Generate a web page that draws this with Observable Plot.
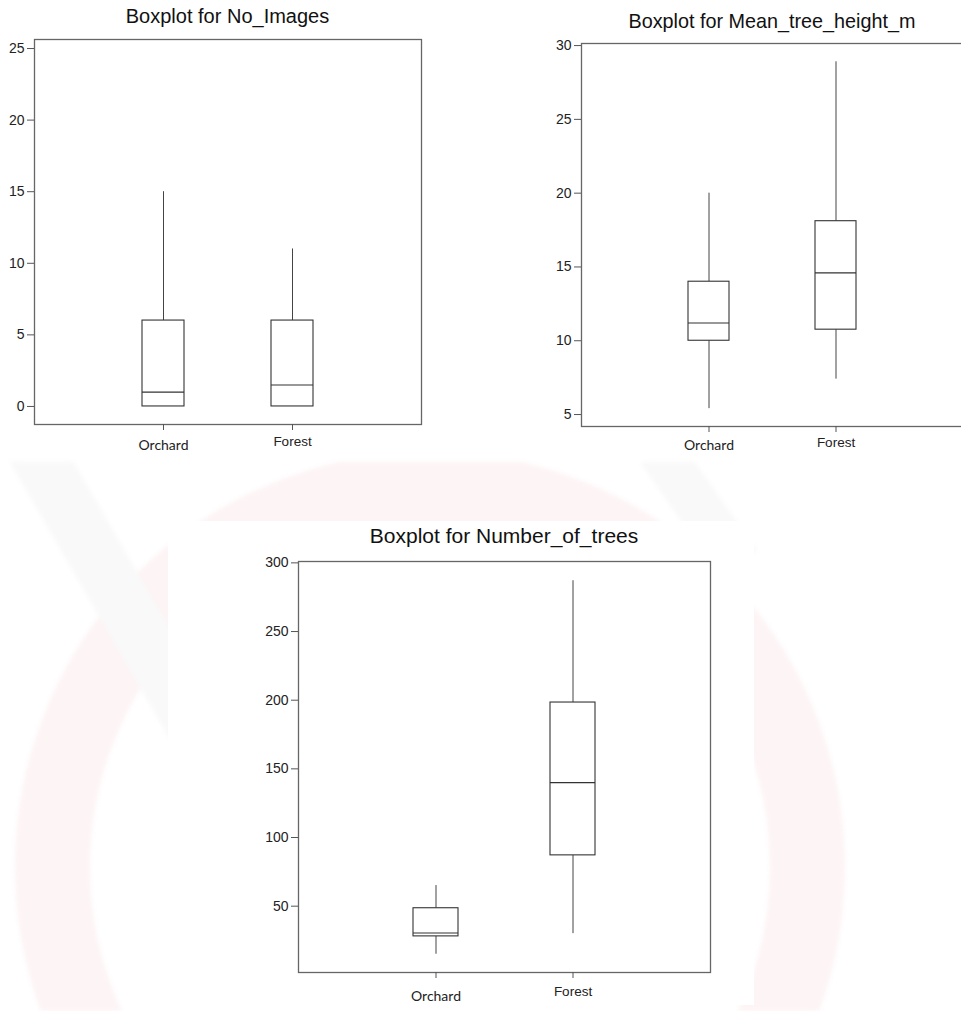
<!DOCTYPE html>
<html>
<head>
<meta charset="utf-8">
<script src="https://cdn.jsdelivr.net/npm/d3@7"></script>
<script src="https://cdn.jsdelivr.net/npm/@observablehq/plot@0.6"></script>
<style>
  html, body { margin: 0; padding: 0; background: #fff; overflow: hidden; }
  #root { position: relative; width: 961px; height: 1011px; overflow: hidden; }
  .panel { position: absolute; }
  .title { position: absolute; transform: translate(-50%, -50%); white-space: nowrap;
           font-family: "Liberation Sans", Arial, sans-serif; color: #111; }
  #wm { position: absolute; left: 0; top: 462px; width: 961px; height: 549px; overflow: hidden; filter: blur(2px); }
  #wm .ring { position: absolute; left: 15px; top: -10px; width: 830px; height: 830px; border-radius: 50%;
              border: 75px solid #fdf4f5; box-sizing: border-box; }
  #wm .band { position: absolute; background: #f9f9f9; transform-origin: 0 0; }
  #paper3 { position: absolute; left: 168px; top: 521px; width: 586px; height: 484px; background: #fff; }
</style>
</head>
<body>
<div id="root">
  <div id="wm"><div class="ring"></div>
    <div class="band" style="left:10px;top:0;width:55px;height:330px;transform:rotate(-30deg);"></div>
    <div class="band" style="left:640px;top:0;width:45px;height:140px;transform:rotate(-35deg);"></div>
  </div>
  <div id="paper3"></div>
</div>
<script>
// ---- data ----
const categories = ["Orchard", "Forest"];

// Boxplot for No_Images
const imagesMin    = [0, 0];
const imagesQ1     = [0, 0];
const imagesMedian = [1, 1.5];
const imagesQ3     = [6, 6];
const imagesMax    = [15, 11];
const imagesTicks  = [0, 5, 10, 15, 20, 25];

// Boxplot for Mean_tree_height_m
const heightMin    = [5.4, 7.4];
const heightQ1     = [10, 10.75];
const heightMedian = [11.2, 14.6];
const heightQ3     = [14, 18.1];
const heightMax    = [20, 28.9];
const heightTicks  = [5, 10, 15, 20, 25, 30];

// Boxplot for Number_of_trees
const treesMin    = [15, 30];
const treesQ1     = [28, 87];
const treesMedian = [30.5, 140];
const treesQ3     = [48.5, 198.3];
const treesMax    = [65, 287];
const treesTicks  = [50, 100, 150, 200, 250, 300];

const titles = ["Boxplot for No_Images", "Boxplot for Mean_tree_height_m", "Boxplot for Number_of_trees"];

// ---- drawing ----
const root = document.getElementById("root");

function rows(min, q1, med, q3, max) {
  return categories.map((c, i) => ({cat: c, min: min[i], q1: q1[i], med: med[i], q3: q3[i], max: max[i]}));
}

function panel(cfg) {
  const data = rows(cfg.min, cfg.q1, cfg.med, cfg.q3, cfg.max);
  const chart = Plot.plot({
    width: cfg.width,
    height: cfg.height,
    marginLeft: cfg.ml, marginRight: cfg.mr, marginTop: cfg.mt, marginBottom: cfg.mb,
    style: {background: "transparent", overflow: "visible", fontSize: "14px", fontFamily: "Liberation Sans, Arial, sans-serif"},
    x: {type: "band", domain: categories, paddingInner: 0.675, paddingOuter: 0.8375, align: 0.5},
    y: {domain: cfg.domain},
    marks: [
      Plot.frame({fill: cfg.fill, stroke: "#666", strokeWidth: 1.3}),
      Plot.ruleX(data, {x: "cat", y1: "min", y2: "q1", stroke: "#444", strokeWidth: 1}),
      Plot.ruleX(data, {x: "cat", y1: "q3", y2: "max", stroke: "#444", strokeWidth: 1}),
      Plot.barY(data, {x: "cat", y1: "q1", y2: "q3", fill: "white", stroke: "#333", strokeWidth: 1.1}),
      Plot.tickY(data, {x: "cat", y: "med", stroke: "#333", strokeWidth: 1.1}),
      Plot.axisY(cfg.ticks, {tickSize: 7, tickPadding: 3, fontSize: 14, fill: "#222", stroke: "#555", label: null}),
      Plot.axisX(categories, {tickSize: 6, tickFormat: () => "", stroke: "#555", label: null}),
      Plot.axisX(["Orchard"], {tickSize: 0, tickPadding: cfg.padO, fontSize: 14, fontFamily: "Lato", fill: "#222", label: null}),
      Plot.axisX(["Forest"], {tickSize: 0, tickPadding: cfg.padF, fontSize: 13.5, fill: "#222", label: null})
    ]
  });
  chart.classList.add("panel");
  chart.style.left = cfg.left + "px";
  chart.style.top = cfg.top + "px";
  root.appendChild(chart);

  const t = document.createElement("div");
  t.className = "title";
  t.textContent = cfg.title;
  t.style.left = cfg.tx + "px";
  t.style.top = cfg.ty + "px";
  t.style.fontSize = cfg.tfs + "px";
  root.appendChild(t);
}

panel({title: titles[0], tx: 227.5, ty: 16, tfs: 20,
  min: imagesMin, q1: imagesQ1, med: imagesMedian, q3: imagesQ3, max: imagesMax,
  ticks: imagesTicks, domain: [-1.26, 25.63], fill: "white",
  left: 0, top: 30, width: 440, height: 440, ml: 34, mr: 19, mt: 9, mb: 46, padO: 16, padF: 12});

panel({title: titles[1], tx: 772, ty: 21, tfs: 19.8,
  min: heightMin, q1: heightQ1, med: heightMedian, q3: heightQ3, max: heightMax,
  ticks: heightTicks, domain: [4.19, 30.14], fill: "white",
  left: 480, top: 30, width: 490, height: 440, ml: 101, mr: 7, mt: 13, mb: 44, padO: 14, padF: 11});

panel({title: titles[2], tx: 504, ty: 536, tfs: 21,
  min: treesMin, q1: treesQ1, med: treesMedian, q3: treesQ3, max: treesMax,
  ticks: treesTicks, domain: [1.7, 301], fill: "white",
  left: 200, top: 550, width: 560, height: 461, ml: 98, mr: 50, mt: 11, mb: 39, padO: 19, padF: 14});
</script>
</body>
</html>
